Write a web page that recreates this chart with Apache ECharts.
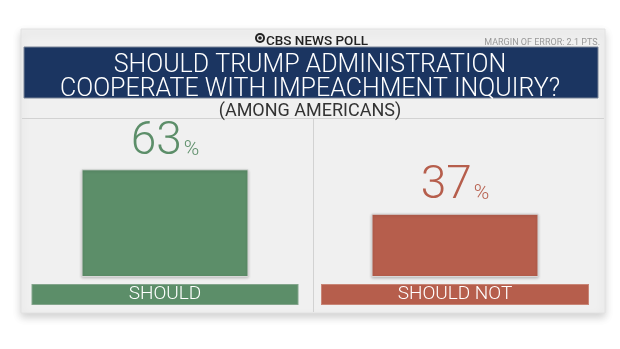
<!DOCTYPE html>
<html><head><meta charset="utf-8">
<script src="https://cdn.jsdelivr.net/npm/echarts@6/dist/echarts.min.js"></script>
<style>html,body{margin:0;padding:0;background:#fff}#c{width:620px;height:349px}</style>
</head><body><div id="c"></div>
<script>
const categories = ['SHOULD', 'SHOULD NOT'];
const values = [63, 37];
const barColors = ['#5c8e69', '#b65e4c'];
const titleLines = ['SHOULD TRUMP ADMINISTRATION', 'COOPERATE WITH IMPEACHMENT INQUIRY?'];
const subtitle = '(AMONG AMERICANS)';
const brand = 'CBS NEWS POLL';
const moe = 'MARGIN OF ERROR: 2.1 PTS.';

const chart = echarts.init(document.getElementById('c'), null, {renderer: 'canvas'});
const font = 'Roboto, "Liberation Sans", sans-serif';
chart.setOption({
  animation: false,
  backgroundColor: '#ffffff',
  graphic: [
    {type: 'rect', z: -10, shape: {x: 21, y: 29, width: 584, height: 284},
     style: {fill: '#f0f0f0', stroke: '#e2e2e2', lineWidth: 1, shadowBlur: 8, shadowOffsetY: 4, shadowColor: 'rgba(0,0,0,0.18)'}},
    {type: 'rect', z: -9, shape: {x: 24, y: 47, width: 574, height: 51},
     style: {fill: '#1b3561', stroke: '#7a8598', lineWidth: 1}},
    {type: 'line', z: -9, shape: {x1: 22, y1: 118.5, x2: 604, y2: 118.5}, style: {stroke: '#d2d2d2', lineWidth: 1}},
    {type: 'line', z: -9, shape: {x1: 313.5, y1: 119, x2: 313.5, y2: 312}, style: {stroke: '#d2d2d2', lineWidth: 1}},
    {type: 'circle', z: 5, shape: {cx: 260, cy: 38, r: 5}, style: {fill: '#222'}},
    {type: 'circle', z: 6, shape: {cx: 260, cy: 38, r: 3}, style: {fill: '#f0f0f0'}},
    {type: 'circle', z: 7, shape: {cx: 260, cy: 38, r: 1.8}, style: {fill: '#222'}}
  ],
  title: [
    {text: brand, left: 261, top: 30, textStyle: {fontFamily: font, fontSize: 13.5, fontWeight: 500, color: '#222'}},
    {text: moe, right: 15, top: 33, textStyle: {fontFamily: font, fontSize: 9, fontWeight: 'normal', color: '#999'}},
    {text: titleLines.join('\n'), left: 'center', top: 49,
     textStyle: {fontFamily: font, fontSize: 25, fontWeight: 300, color: '#ffffff', lineHeight: 23.5}},
    {text: subtitle, left: 'center', top: 97, textStyle: {fontFamily: font, fontSize: 18, fontWeight: 'normal', color: '#333'}}
  ],
  grid: {left: 20, right: 20, top: 106, bottom: 72},
  xAxis: {
    type: 'category', data: categories,
    axisLine: {show: false}, axisTick: {show: false},
    axisLabel: {
      margin: 7,
      formatter: (v, i) => '{b' + i + '|' + v + '}',
      rich: {
        b0: {backgroundColor: barColors[0], color: '#fff', width: 265, height: 19, lineHeight: 21, align: 'center', fontSize: 19, fontFamily: font, fontWeight: 300, borderColor: '#83a58c', borderWidth: 1},
        b1: {backgroundColor: barColors[1], color: '#fff', width: 266, height: 19, lineHeight: 21, align: 'center', fontSize: 19, fontFamily: font, fontWeight: 300, borderColor: '#c88576', borderWidth: 1}
      }
    }
  },
  yAxis: {type: 'value', min: 0, max: 100, show: false, splitLine: {show: false}},
  series: [{
    type: 'bar', barWidth: 167,
    data: values.map((v, i) => ({value: v, itemStyle: {color: barColors[i], borderColor: '#d8d8d8', borderWidth: 1, shadowBlur: 3, shadowOffsetY: 1, shadowColor: 'rgba(0,0,0,0.2)'}})),
    label: {
      show: true, position: 'top', distance: 4,
      formatter: p => '{n' + p.dataIndex + '|' + p.value + '}{p' + p.dataIndex + '|%}',
      rich: {
        n0: {fontSize: 46, fontFamily: font, fontWeight: 300, color: barColors[0]},
        p0: {fontSize: 21, fontFamily: font, fontWeight: 300, color: barColors[0], padding: [14, 0, 0, 2]},
        n1: {fontSize: 46, fontFamily: font, fontWeight: 300, color: barColors[1]},
        p1: {fontSize: 21, fontFamily: font, fontWeight: 300, color: barColors[1], padding: [14, 0, 0, 2]}
      }
    }
  }]
});
</script></body></html>
